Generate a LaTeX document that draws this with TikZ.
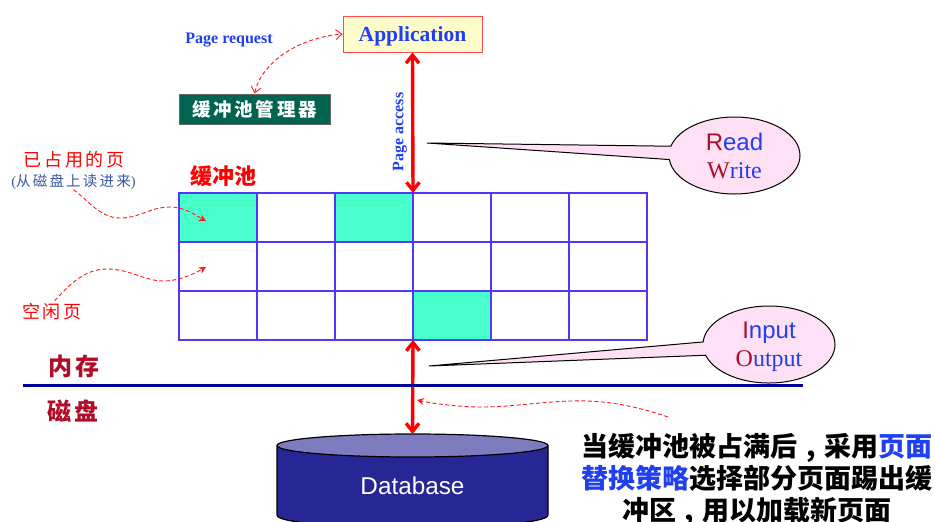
\documentclass[tikz,border=0pt]{standalone}
\usepackage{fontspec}
\setmainfont{Liberation Serif}
\newfontfamily\cjk{Noto Sans CJK SC}
\newfontfamily\cjkwide[LetterSpace=15]{Noto Sans CJK SC}
\newfontfamily\arialfont{Liberation Sans}
\usetikzlibrary{arrows.meta,shapes.callouts}
\definecolor{gridblue}{HTML}{5038F8}
\definecolor{pagegreen}{HTML}{48FFCC}
\definecolor{titleblue}{HTML}{1F3FF0}
\definecolor{darkred}{HTML}{B00C28}
\definecolor{bubblepink}{HTML}{FFE0F4}
\definecolor{diskblue}{HTML}{262695}
\definecolor{disktop}{HTML}{7C7CBE}
\definecolor{managergreen}{HTML}{006450}
\definecolor{noteblue}{HTML}{3A55A8}
\newcommand{\cnComma}{\makebox[1em][c]{,}}
\tikzset{
	accessarrow/.style={red, line width=3.4pt, {Straight Barb[length=8pt,width=13pt]}-{Straight Barb[length=8pt,width=13pt]}},
	hintarrow/.style={red!90!white, dash pattern=on 4pt off 2.5pt, line width=0.9pt},
	hinttip/.style={-{Stealth[length=7pt,width=7pt]}},
	cellbox/.style={draw=gridblue, line width=1.2pt, minimum width=78pt, minimum height=49pt, inner sep=0pt, outer sep=0pt},
	bubble/.style={ellipse callout, draw=black, fill=bubblepink, line width=1pt, inner sep=0pt, outer sep=0pt, align=center, callout pointer arc=20, font=\fontsize{24}{28}\selectfont},
	txt/.style={inner sep=0pt, outer sep=0pt, align=center}
}
\begin{document}
\begin{tikzpicture}[x=1pt, y=-1pt]
			\clip (0,0) rectangle (935,522);
			%   %   %   %   %   %   %   %   %   %   %
			%   Application and manager
				\node[draw=red!70!white, fill=yellow!20, line width=1pt, minimum width=139pt, minimum height=36pt, inner sep=0pt, text height=16pt, text depth=2pt, text=titleblue, font=\bfseries\fontsize{21.5}{24}\selectfont] (app) at (412.5,34) {Application};
				\node[draw=black!60, fill=managergreen, line width=1pt, minimum width=151pt, minimum height=30pt, inner sep=0pt, text=white, font=\cjkwide\bfseries\fontsize{18.5}{22}\selectfont] (manager) at (254.5,109) {缓冲池管理器};
				\node[txt, text=titleblue, font=\bfseries\fontsize{16}{18}\selectfont] (request) at (229,40) {Page request};
				\draw[hintarrow, {Straight Barb[length=6pt,width=10pt]}-{Straight Barb[length=6pt,width=10pt]}] (manager.north) .. controls (262,62) and (298,38) .. (app.west);
			%   %   %   %   %   %   %   %   %   %   %
			%   Buffer pool
				\foreach \r in {1,2,3}
					\foreach \c in {1,...,6}
						\node[cellbox] (cell-\r-\c) at ({179+78*(\c-0.5)},{193+49*(\r-0.5)}) {};
				\foreach \r/\c in {1/1,1/3,3/4}
					\node[cellbox, fill=pagegreen] (used-\r-\c) at (cell-\r-\c) {};
				\node[txt, text=red, font=\cjk\bfseries\fontsize{22}{24}\selectfont] (pool) at (223,176) {缓冲池};
			%   %   %   %   %   %   %   %   %   %   %
			%   Page access
				\draw[accessarrow] (app.south) -- (cell-1-4.north west);
				\node[txt, rotate=90, text=titleblue, font=\bfseries\fontsize{16}{18}\selectfont] (access) at (400,132) {Page access};
			%   %   %   %   %   %   %   %   %   %   %
			%   Read and write
				\coordinate (readtip) at (427,143);
				\node[bubble, minimum width=131pt, minimum height=77pt, callout absolute pointer={(readtip)}] (read) at (734.5,155.5) {{\arialfont\textcolor{darkred}{R}\textcolor{titleblue}{ead}}\\{\textcolor{darkred}{W}\textcolor{titleblue}{rite}}};
			%   %   %   %   %   %   %   %   %   %   %
			%   Page labels
				\node[txt, text=red, font=\cjkwide\fontsize{18}{20}\selectfont] (usedlabel) at (74,160) {已占用的页};
				\node[txt, text=noteblue, font=\fontsize{14.5}{16}\selectfont] (usednote) at (73.5,182) {(\cjkwide 从磁盘上读进来\rmfamily)};
				\node[txt, text=red, font=\cjkwide\fontsize{18}{20}\selectfont] (freelabel) at (52,312) {空闲页};
				\coordinate (usedtip) at (206,221);
				\coordinate (freetip) at (206,267);
				\draw[hintarrow, hinttip] (usednote.south) .. controls (88,200) and (100,218) .. (120,218) .. controls (140,218) and (150,207) .. (170,207) .. controls (185,207) and (195,215) .. (usedtip);
				\draw[hintarrow, hinttip, shorten <=4pt] (freelabel.north) .. controls (70,284) and (85,269) .. (107,269) .. controls (130,269) and (145,281) .. (163,281) .. controls (178,281) and (192,275) .. (freetip);
			%   %   %   %   %   %   %   %   %   %   %
			%   Input and output
				\fill[diskblue] (277,445.5) -- (277,515) .. controls (277,523) and (340,527) .. (412.5,527) .. controls (485,527) and (548,523) .. (548,515) -- (548,445.5) -- cycle;
				\draw[line width=1.2pt] (277,445.5) -- (277,515) .. controls (277,523) and (340,527) .. (412.5,527) .. controls (485,527) and (548,523) .. (548,515) -- (548,445.5);
				\draw[line width=1.2pt, fill=disktop] (412.5,445.5) ellipse [x radius=135.5pt, y radius=11.5pt];
				\node[txt, text=white, font=\arialfont\fontsize{24.3}{26}\selectfont] (db) at (412.5,486) {Database};
				\coordinate (dbtop) at (412.5,434);
				\draw[accessarrow] (cell-3-4.south west) -- (dbtop);
				\coordinate (iotip) at (429,366);
				\node[bubble, minimum width=132pt, minimum height=77pt, callout absolute pointer={(iotip)}] (input) at (769,344.5) {{\arialfont\textcolor{darkred}{I}\textcolor{titleblue}{nput}}\\\raisebox{0pt}[\height][0pt]{\textcolor{darkred}{O}\textcolor{titleblue}{utput}}};
			%   %   %   %   %   %   %   %   %   %   %
			%   Memory and disk
				\coordinate (lineleft) at (23,385);
				\coordinate (lineright) at (803,385);
				\draw[blue!60!black, line width=3pt] (lineleft) -- (lineright);
				\node[txt, text=darkred, font=\cjkwide\bfseries\fontsize{24}{26}\selectfont] (memory) at (74,366) {内存};
				\node[txt, text=darkred, font=\cjkwide\bfseries\fontsize{24}{26}\selectfont] (disk) at (73,411) {磁盘};
			%   %   %   %   %   %   %   %   %   %   %
			%   Replacement note
				\node[txt, font=\cjk\bfseries\fontsize{27}{32}\selectfont] (note) at (757,479.5) {当缓冲池被占满后\cnComma 采用\textcolor{titleblue}{页面}\\\textcolor{titleblue}{替换策略}选择部分页面踢出缓\\冲区\cnComma 用以加载新页面};
				\coordinate (notestart) at (668,417);
				\coordinate (notetip) at (417,400);
				\draw[hintarrow, hinttip] (notestart) .. controls (630,404) and (600,400) .. (570,401) .. controls (540,402) and (510,407) .. (482,407) .. controls (460,407) and (435,404) .. (notetip);
\end{tikzpicture}
\end{document}
